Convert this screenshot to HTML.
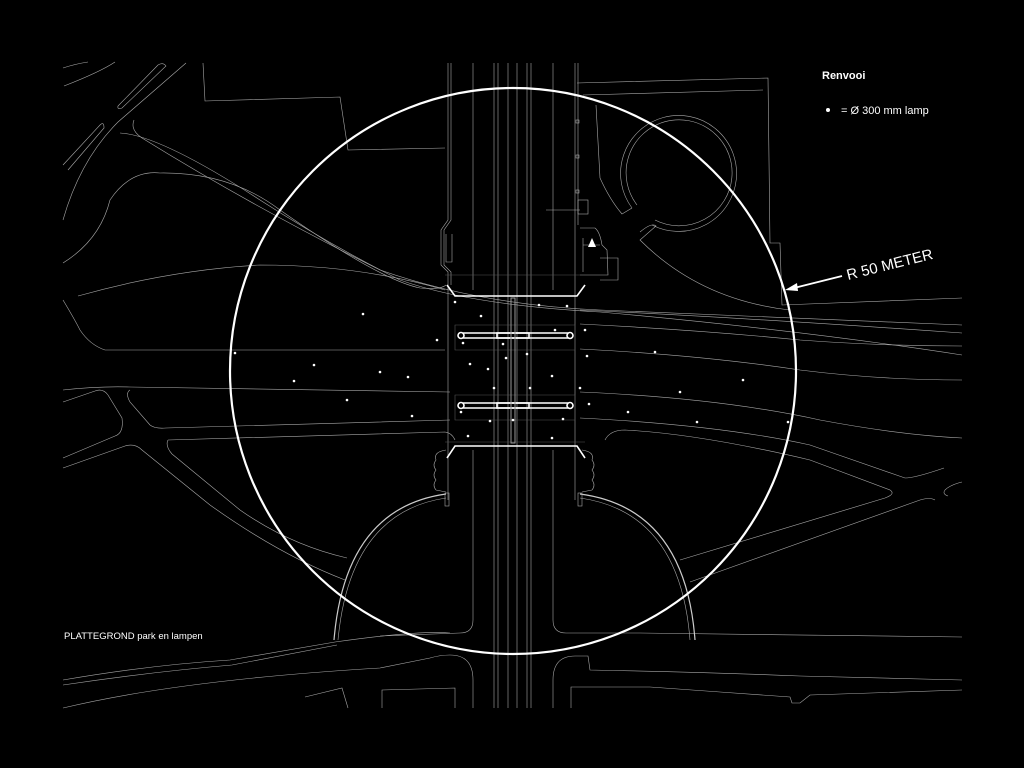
<!DOCTYPE html>
<html><head><meta charset="utf-8"><style>
html,body{margin:0;padding:0;background:#000;width:1024px;height:768px;overflow:hidden}
svg{display:block}
text{font-family:"Liberation Sans",sans-serif;fill:#fff}
</style></head><body>
<svg width="1024" height="768" viewBox="0 0 1024 768" xmlns="http://www.w3.org/2000/svg">
<rect width="1024" height="768" fill="#000"/>
<g fill="none" stroke="#a8a8a8" stroke-width="0.6">
<path d="M63 68 Q75 64 88 62"/>
<path d="M64 86 Q100 72 115 62"/>
<path d="M118 106 L158 65 Q163 62 166 66 L122 108 Q117 110 118 106"/>
<path d="M63 165 L100 125 Q104 121 104 128 L68 170"/>
<path d="M63 220 Q80 160 118 122 L186 63"/>
<path d="M134 120 Q130 130 142 138 Q250 205 380 270 Q480 305 600 310 L962 325"/>
<path d="M120 133 Q160 135 260 200 Q330 245 400 280 Q470 305 600 312 Q800 330 962 355"/>
<path d="M203 63 L205 101 L340 97 L348 150 L445 148"/>
<path d="M63 263 Q100 240 110 200 Q130 170 160 173 Q230 172 280 210 Q380 280 420 288 Q440 290 446 285"/>
<path d="M63 300 Q75 320 80 330 Q90 345 105 350 L445 350"/>
<path d="M78 296 Q170 270 260 265 Q360 265 445 290"/>
<path d="M63 390 Q100 386 130 387 L450 392"/>
<path d="M63 402 L95 391 Q103 388 108 395 L122 418 Q124 433 115 436 L63 458"/>
<path d="M130 390 Q125 393 130 402 L150 425 Q155 429 166 428 L450 420"/>
<path d="M63 468 L125 446 Q135 443 142 450 L210 505 Q280 555 345 580"/>
<path d="M168 440 Q165 446 172 454 L240 510 Q290 545 347 558"/>
<path d="M168 440 L445 432 Q452 433 455 440"/>
<path d="M446 494 Q345 508 334 640" stroke="#ccc" stroke-width="1.2"/>
<path d="M446 498 Q350 512 338 640"/>
<path d="M380 636 L460 633 Q473 633 473 620 L473 450"/>
<path d="M553 450 L553 620 Q553 633 566 633 L640 633 L962 637"/>
<path d="M580 494 Q685 508 695 640" stroke="#ccc" stroke-width="1.2"/>
<path d="M580 498 Q680 512 690 640"/>
<path d="M63 680 Q150 665 230 660 L335 642 Q420 630 450 633"/>
<path d="M63 685 Q150 672 232 665 L337 645"/>
<path d="M63 708 Q180 680 380 668 L430 658 Q440 655 450 655 Q473 655 473 680 L473 708"/>
<path d="M553 708 L553 680 Q553 656 575 656 L588 656 L590 670 Q700 672 800 676 L962 680"/>
<path d="M382 708 L382 690 L455 688 L455 708"/>
<path d="M305 697 L342 688 L348 708"/>
<path d="M571 708 L571 687 L650 687 L720 692 L790 697 L792 703 L800 703 L810 695 L962 690"/>
<path d="M580 310 Q750 318 962 333"/>
<path d="M580 324 Q700 330 800 340 Q880 346 962 346"/>
<path d="M580 349 Q700 355 800 370 Q880 380 962 380"/>
<path d="M580 392 Q720 398 820 420 Q900 435 962 438"/>
<path d="M580 418 Q720 425 810 445 L905 478 Q915 478 944 468"/>
<path d="M605 440 Q610 430 625 430 Q700 434 810 460 L890 490 Q896 494 885 498 L680 560"/>
<path d="M690 582 L920 500 Q930 497 935 500"/>
<path d="M962 482 Q950 485 945 490 Q942 494 948 496"/>
<path d="M577 83 L768 78 L770 243 L780 243 L782 305 L962 298"/>
<path d="M583 95 L763 90"/>
<path d="M596 105 L600 178 Q610 200 622 214 L632 208"/>
<path d="M640 232 Q652 222 656 226 L640 240 Q700 300 790 310"/>
<path d="M632 208 A58 58 0 1 1 652 225"/>
<path d="M637 205 A53 53 0 1 1 655 220"/>
<path d="M448 63 L448 220 L441 230 L441 265 L448 272 L448 500"/>
<path d="M451 63 L451 220 L444 230 L444 265 L451 272 L451 285"/>
<path d="M575 63 L575 500 M578 63 L578 225"/>
<path d="M473 63 L473 290 M553 63 L553 290"/>
<path d="M494 63 L494 708 M498 63 L498 708 M508 63 L508 708 M517 63 L517 708 M527 63 L527 708 M531 63 L531 708"/>
<path d="M546 210 L580 210 M446 234 L446 262 L452 262 L452 234"/>
<rect x="576" y="120" width="3" height="3"/><rect x="576" y="155" width="3" height="3"/><rect x="576" y="190" width="3" height="3"/>
<rect x="578" y="200" width="10" height="14"/>
<path d="M580 228 L595 228 Q600 232 602 245 L607 250 L608 275 L580 275 M583 245 L600 245 M600 258 L618 258 L618 280 L600 280 M583 238 L583 272"/>
<path d="M455 325 L575 325 L575 350 L455 350 Z M455 395 L575 395 L575 420 L455 420 Z" stroke="#555"/>
<path d="M445 275 L585 275 M445 442 L585 442" stroke="#555"/>
<path d="M446 450 Q433 452 436 460 Q432 465 436 470 Q432 475 436 480 Q432 485 436 490 L446 492"/>
<path d="M582 450 Q595 452 592 460 Q596 465 592 470 Q596 475 592 480 Q596 485 592 490 L582 492"/>
<rect x="445" y="493" width="4" height="13"/><rect x="578" y="493" width="4" height="13"/>
</g>
<g fill="none" stroke="#fff" stroke-width="1.6">
<path d="M447 285 L455 296 L577 296 L585 285"/>
<path d="M447 458 L455 446 L577 446 L585 458"/>
<path d="M463 333 L568 333 M463 338 L568 338 M463 403 L568 403 M463 408 L568 408"/>
<circle cx="461" cy="335.5" r="3"/><circle cx="570" cy="335.5" r="3"/>
<circle cx="461" cy="405.5" r="3"/><circle cx="570" cy="405.5" r="3"/>
<rect x="497" y="333" width="32" height="5"/><rect x="497" y="403" width="32" height="5"/>
<rect x="511" y="298" width="4" height="145" stroke="#999" stroke-width="1"/>
</g>
<circle cx="513" cy="371" r="283" fill="none" stroke="#fff" stroke-width="2.2"/>
<g fill="#fff">
<circle cx="363" cy="314" r="1.3"/><circle cx="235" cy="353" r="1.3"/><circle cx="314" cy="365" r="1.3"/>
<circle cx="294" cy="381" r="1.3"/><circle cx="380" cy="372" r="1.3"/><circle cx="408" cy="377" r="1.3"/>
<circle cx="347" cy="400" r="1.3"/><circle cx="412" cy="416" r="1.3"/><circle cx="437" cy="340" r="1.3"/>
<circle cx="455" cy="302" r="1.3"/><circle cx="481" cy="316" r="1.3"/><circle cx="539" cy="305" r="1.3"/>
<circle cx="567" cy="306" r="1.3"/><circle cx="585" cy="330" r="1.3"/><circle cx="555" cy="330" r="1.3"/>
<circle cx="463" cy="343" r="1.3"/><circle cx="503" cy="344" r="1.3"/><circle cx="470" cy="364" r="1.3"/>
<circle cx="488" cy="369" r="1.3"/><circle cx="506" cy="358" r="1.3"/><circle cx="527" cy="354" r="1.3"/>
<circle cx="552" cy="376" r="1.3"/><circle cx="494" cy="388" r="1.3"/><circle cx="530" cy="388" r="1.3"/>
<circle cx="580" cy="388" r="1.3"/><circle cx="589" cy="404" r="1.3"/><circle cx="461" cy="412" r="1.3"/>
<circle cx="490" cy="421" r="1.3"/><circle cx="513" cy="420" r="1.3"/><circle cx="563" cy="419" r="1.3"/>
<circle cx="468" cy="436" r="1.3"/><circle cx="552" cy="438" r="1.3"/><circle cx="655" cy="352" r="1.3"/>
<circle cx="680" cy="392" r="1.3"/><circle cx="628" cy="412" r="1.3"/><circle cx="697" cy="422" r="1.3"/>
<circle cx="743" cy="380" r="1.3"/><circle cx="788" cy="422" r="1.3"/><circle cx="587" cy="356" r="1.3"/>
<circle cx="828" cy="110" r="2"/>
</g>
<polygon points="588,247 592,238 596,247" fill="#fff"/>
<line x1="842" y1="276" x2="790" y2="289" stroke="#fff" stroke-width="1.8"/>
<polygon points="785,290 797,283 798,291" fill="#fff"/>
<text x="848" y="280" font-size="15" transform="rotate(-14 848 280)">R 50 METER</text>
<text x="822" y="79" font-size="11" font-weight="bold">Renvooi</text>
<text x="841" y="114" font-size="11">= Ø 300 mm lamp</text>
<text x="64" y="639" font-size="9.5">PLATTEGROND park en lampen</text>
</svg>
</body></html>
